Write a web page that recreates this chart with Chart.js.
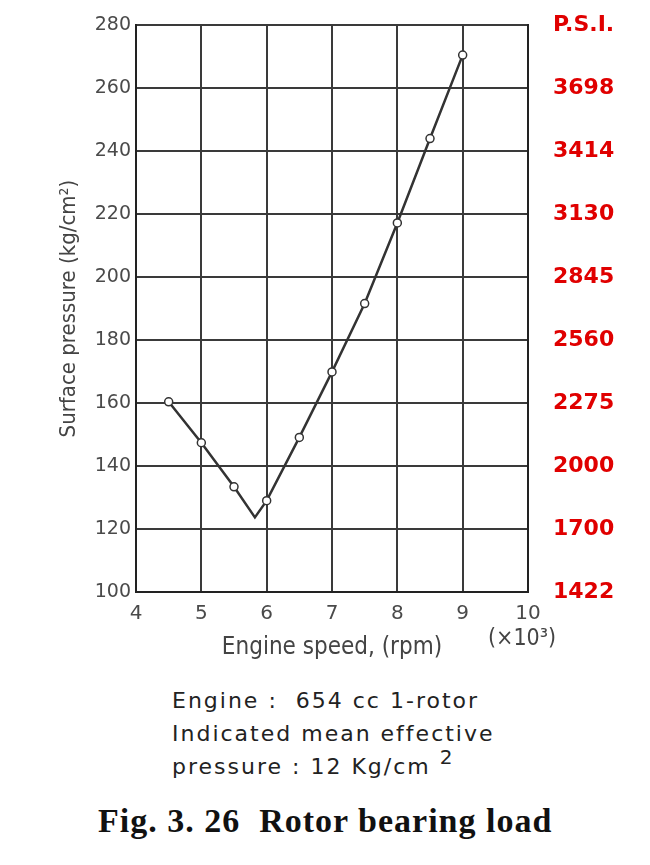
<!DOCTYPE html>
<html>
<head>
<meta charset="utf-8">
<script src="https://cdn.jsdelivr.net/npm/chart.js@4"></script>
<style>
  body { margin: 0; background: #fff; width: 650px; height: 865px; position: relative; overflow: hidden; }
  #wrap { position: absolute; left: 0; top: -13px; width: 650px; height: 683px; }
  .note { position: absolute; font-family: 'DejaVu Sans', sans-serif; color: #222; }
  #unit { left: 488px; top: 624px; font-family: 'Liberation Sans Narrow', 'DejaVu Sans Condensed', sans-serif; font-size: 23px; color: #444; }
  #engine { left: 172px; top: 684px; font-size: 22px; letter-spacing: 2px; line-height: 33px; }
  #engine sup { font-size: 20px; vertical-align: 10px; line-height: 0; }
  #caption { left: 98px; top: 802px; font-family: 'Liberation Serif', serif; font-weight: bold; font-size: 34px; letter-spacing: 1px; color: #111; white-space: nowrap; }
</style>
</head>
<body>
<div id="wrap"><canvas id="myChart"></canvas></div>
<div id="unit" class="note">(×10³)</div>
<div id="engine" class="note">Engine :&nbsp; 654 cc 1-rotor<br>Indicated mean effective<br>pressure : 12 Kg/cm <sup>2</sup></div>
<div id="caption" class="note">Fig. 3. 26&nbsp; Rotor bearing load</div>
<script>
// engine speed (x1000 rpm) and surface pressure (kg/cm2)
const speed = [4.5, 5, 5.5, 5.82, 6, 6.5, 7, 7.5, 8, 8.5, 9];
const pressure = [160.4, 147.4, 133.4, 123.7, 129.0, 149.1, 169.9, 191.6, 217.2, 244.0, 270.5];
const cornerIdx = 3; // bend of the line, no marker drawn there

// axis ticks
const speedTicks = [4, 5, 6, 7, 8, 9, 10];
const kgTicks = [100, 120, 140, 160, 180, 200, 220, 240, 260, 280];
const psiLabels = ['1422', '1700', '2000', '2275', '2560', '2845', '3130', '3414', '3698', 'P.S.I.'];

const points = speed.map((s, i) => ({ x: s, y: pressure[i] }));
const gridCol = '#3a3a3a';

const ctx = document.getElementById('myChart').getContext('2d');
const myChart = new Chart(ctx, {
    type: 'line',
    data: {
        datasets: [{
            data: points,
            borderColor: '#333',
            borderWidth: 2.5,
            tension: 0,
            pointRadius: c => c.dataIndex === cornerIdx ? 0 : 4,
            pointBackgroundColor: '#fff',
            pointBorderColor: '#333',
            pointBorderWidth: 1.5
        }]
    },
    options: {
        responsive: true,
        maintainAspectRatio: false,
        animation: false,
        layout: { padding: 0 },
        plugins: { legend: { display: false }, tooltip: { enabled: false } },
        scales: {
            x: {
                type: 'linear',
                min: speedTicks[0],
                max: speedTicks[speedTicks.length - 1],
                afterBuildTicks: axis => { axis.ticks = speedTicks.map(v => ({ value: v })); },
                afterFit: axis => { axis.height = 78; },
                grid: { color: gridCol, lineWidth: 2, drawTicks: false },
                border: { display: true, color: '#222', width: 2 },
                ticks: { padding: 10, color: '#4a4a4a', font: { family: 'DejaVu Sans', size: 20 } },
                title: {
                    display: true,
                    text: 'Engine speed, (rpm)',
                    color: '#444',
                    font: { family: "'Liberation Sans Narrow', 'DejaVu Sans Condensed'", size: 24 },
                    padding: { top: 0, bottom: 8 }
                }
            },
            y: {
                position: 'left',
                min: kgTicks[0],
                max: kgTicks[kgTicks.length - 1],
                afterBuildTicks: axis => { axis.ticks = kgTicks.map(v => ({ value: v })); },
                afterFit: axis => { axis.width = 136; },
                grid: { color: gridCol, lineWidth: 2, drawTicks: false },
                border: { display: true, color: '#222', width: 2 },
                ticks: { padding: 5, color: '#4a4a4a', font: { family: 'DejaVu Sans', size: 19 } },
                title: {
                    display: true,
                    text: 'Surface pressure (kg/cm²)',
                    color: '#444',
                    font: { family: "'Liberation Sans Narrow', 'DejaVu Sans Condensed'", size: 22 },
                    padding: { top: 56, bottom: 0 }
                }
            },
            psi: {
                position: 'right',
                min: kgTicks[0],
                max: kgTicks[kgTicks.length - 1],
                afterBuildTicks: axis => { axis.ticks = kgTicks.map(v => ({ value: v })); },
                afterFit: axis => { axis.width = 122; },
                grid: { display: false, drawTicks: false },
                border: { display: true, color: '#222', width: 2 },
                ticks: {
                    padding: 25,
                    crossAlign: 'center',
                    color: '#e00000',
                    font: { family: 'DejaVu Sans', size: 22, weight: 'bold' },
                    callback: (v, i) => psiLabels[kgTicks.indexOf(v)]
                }
            }
        }
    }
});
</script>
</body>
</html>
